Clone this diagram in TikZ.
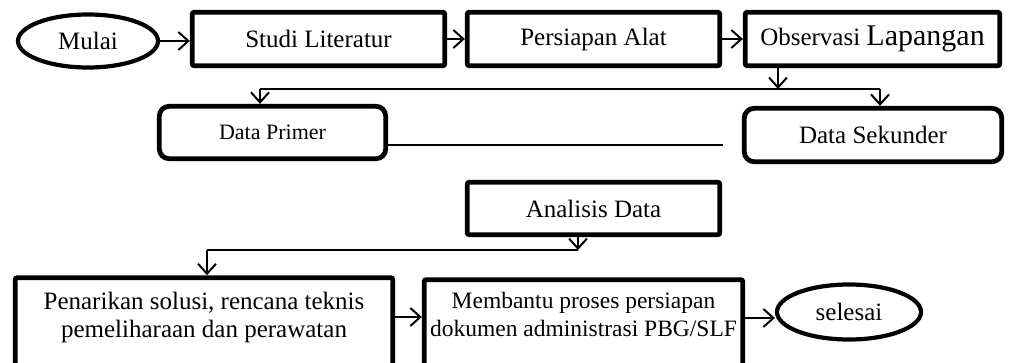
\documentclass[tikz,border=0pt]{standalone}
\usepackage{fontspec}
\setmainfont{Liberation Serif}
\usetikzlibrary{arrows.meta,shapes.geometric}
\begin{document}
\begin{tikzpicture}[x=1pt,y=-1pt,
  base/.style={draw, inner sep=0pt, font=\fontsize{25}{28}\selectfont},
  sz/.style 2 args={minimum width=#1pt, minimum height=#2pt},
  box/.style={base, line width=4.8pt, rounded corners=2pt},
  rbox/.style={base, line width=4.8pt, rounded corners=10pt},
  ell/.style={base, ellipse, line width=4.2pt},
  conn/.style={draw, line width=2pt},
  arr/.style={conn, -{Straight Barb[length=10pt, width=18pt]}}]
\fill[white] (0,0) rectangle (1010,362);
\useasboundingbox (0,0) rectangle (1010,362);
\clip (0,0) rectangle (1010,362);
% nodes
\node[ell, sz={140}{53}] (mulai) at (88,41) {Mulai};
\node[box, sz={252.5}{53.5}] (studi) at (318.5,39) {Studi Literatur};
\node[box, sz={252.5}{53.5}] (alat) at (593.5,39) {Persiapan Alat};
\node[box, sz={254.5}{53.5}] (obs) at (872.5,39) {Observasi {\fontsize{30}{30}\selectfont Lapangan}};
\node[rbox, sz={226.5}{52.5}, font=\fontsize{22}{25}\selectfont] (dp) at (272.5,132.5) {Data Primer};
\node[rbox, sz={257.5}{53.5}] (ds) at (873,135) {Data Sekunder};
\node[box, sz={252.5}{52.5}] (an) at (593.5,208.5) {Analisis Data};
\node[box, anchor=north, minimum width=377.5pt, inner ysep=14.6pt, text depth=80pt, align=center]
  (pen) at (204,275.25) {Penarikan solusi, rencana teknis\\pemeliharaan dan perawatan};
\node[box, anchor=north, minimum width=318.5pt, inner ysep=12.75pt, text depth=80pt, align=center,
  font=\fontsize{23.5}{28}\selectfont]
  (mem) at (583.5,277.25) {Membantu proses persiapan\\dokumen administrasi PBG/SLF};
\node[ell, sz={144}{55}] (sel) at (849,312) {selesai};
% junction coordinates
\coordinate (j1) at (778,89);
\coordinate (jL) at (260,89);
\coordinate (jR) at (880,89);
\coordinate (dpend) at (723,145);
\coordinate (j2) at (578,250);
\coordinate (j3) at (207,250);
\coordinate (r5) at (0,317);
\coordinate (r6) at (0,318);
% connectors
\draw[arr] (mulai.east) -- (mulai.east -| studi.west);
\draw[arr] (studi.east) -- (alat.west);
\draw[arr] (alat.east) -- (obs.west);
\draw[arr] (obs.south -| j1) -- (j1);
\draw[conn] (jL) -- (jR);
\draw[arr] (jL) -- (jL |- dp.north);
\draw[arr] (jR) -- (jR |- ds.north);
\draw[conn] (dp.east |- dpend) -- (dpend);
\draw[arr] (an.south -| j2) -- (j2);
\draw[conn] (j2) -- (j3);
\draw[arr] (j3) -- (j3 |- pen.north);
\draw[arr] (pen.east |- r5) -- (mem.west |- r5);
\draw[arr] (mem.east |- r6) -- (sel.west |- r6);
\end{tikzpicture}
\end{document}
